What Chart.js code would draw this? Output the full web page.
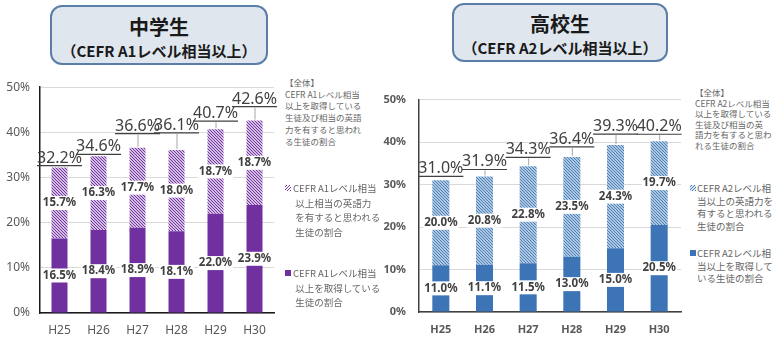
<!DOCTYPE html>
<html lang="ja">
<head>
<meta charset="utf-8">
<script src="https://cdn.jsdelivr.net/npm/chart.js@4/dist/chart.umd.min.js"></script>
<style>
  body { margin: 0; background: #fff; width: 780px; height: 350px; position: relative; overflow: hidden;
         font-family: "Noto Sans CJK JP", "Noto Sans", sans-serif; }
  .box { position: absolute; box-sizing: border-box; border: 2px solid #5a7ea8; border-radius: 12px;
         background: #dfe6ee; text-align: center; color: #1a1a1a; font-weight: bold; }
  .box .t1 { font-size: 20px; line-height: 24px; margin-top: 8px; }
  .box .t2 { font-size: 15px; line-height: 20px; margin-top: 2px; }
  .wrap { position: absolute; }
  .leg { position: absolute; color: #666; white-space: nowrap; }
  .mk { position: absolute; width: 6px; height: 6px; }
</style>
</head>
<body>
<div class="box" style="left:50px;top:5px;width:218px;height:60px;">
  <div class="t1">中学生</div>
  <div class="t2">（CEFR A1レベル相当以上）</div>
</div>
<div class="box" style="left:452px;top:3px;width:216px;height:59px;">
  <div class="t1" style="margin-top:7px;">高校生</div>
  <div class="t2">（CEFR A2レベル相当以上）</div>
</div>

<div class="wrap" style="left:0;top:70px;"><canvas id="junior" width="280" height="280"></canvas></div>
<div class="wrap" style="left:370px;top:80px;"><canvas id="senior" width="320" height="270"></canvas></div>

<!-- legends -->
<div class="leg" style="left:285px;top:77px;font-size:8.5px;line-height:11.7px;">【全体】<br>CEFR A1レベル相当<br>以上を取得している<br>生徒及び相当の英語<br>力を有すると思われ<br>る生徒の割合</div>
<div class="mk" style="left:285px;top:185px;background:repeating-linear-gradient(-45deg,#7030a0 0 1px,#fff 1px 2.2px);"></div>
<div class="leg" style="left:293px;top:181px;font-size:9.5px;line-height:14.5px;">CEFR A1レベル相当<br>&nbsp;以上相当の英語力<br>&nbsp;を有すると思われる<br>&nbsp;生徒の割合</div>
<div class="mk" style="left:285px;top:270px;background:#7030a0;"></div>
<div class="leg" style="left:293px;top:266px;font-size:9.5px;line-height:14.5px;">CEFR A1レベル相当<br>&nbsp;以上を取得している<br>&nbsp;生徒の割合</div>

<div class="leg" style="left:695px;top:87px;font-size:8.5px;line-height:10.6px;">【全体】<br>CEFR A2レベル相当<br>以上を取得している<br>生徒及び相当の英<br>語力を有すると思わ<br>れる生徒の割合</div>
<div class="mk" style="left:690px;top:185px;background:repeating-linear-gradient(-45deg,#4a7fb8 0 1px,#dbe8f4 1px 2.2px);"></div>
<div class="leg" style="left:697px;top:182px;font-size:9.5px;line-height:12.7px;">CEFR A2レベル相<br>当以上の英語力を<br>有すると思われる<br>生徒の割合</div>
<div class="mk" style="left:690px;top:250px;background:#3d74b6;"></div>
<div class="leg" style="left:697px;top:247px;font-size:9.5px;line-height:12.7px;">CEFR A2レベル相<br>当以上を取得して<br>いる生徒の割合</div>

<script>
const years = ['H25', 'H26', 'H27', 'H28', 'H29', 'H30'];
const yTicks = [0, 10, 20, 30, 40, 50];

// 中学生 (A1)
const juniorAchieved = [16.5, 18.4, 18.9, 18.1, 22.0, 23.9];
const juniorEquivalent = [15.7, 16.3, 17.7, 18.0, 18.7, 18.7];
const juniorTotal = [32.2, 34.6, 36.6, 36.1, 40.7, 42.6];

// 高校生 (A2)
const seniorAchieved = [11.0, 11.1, 11.5, 13.0, 15.0, 20.5];
const seniorEquivalent = [20.0, 20.8, 22.8, 23.5, 24.3, 19.7];
const seniorTotal = [31.0, 31.9, 34.3, 36.4, 39.3, 40.2];

// how far each total label sits above its bar (px)
const juniorLift = [2, 2, 14, 17, 8, 14];
const seniorLift = [4, 7, 9, 10, 11, 7];

function hatch(fg, bg) {
	const c = document.createElement('canvas');
	c.width = 3;
	c.height = 3;
	const g = c.getContext('2d');
	g.fillStyle = bg;
	g.fillRect(0, 0, 3, 3);
	g.strokeStyle = fg;
	g.lineWidth = 1.2;
	g.beginPath();
	g.moveTo(-1, -1); g.lineTo(4, 4);
	g.moveTo(-1, 2); g.lineTo(1, 4);
	g.moveTo(2, -1); g.lineTo(4, 1);
	g.stroke();
	return g.createPattern(c, 'repeat');
}

const segLabels = {
	id: 'segLabels',
	afterDatasetsDraw(chart, args, opts) {
		const ctx = chart.ctx;
		ctx.save();
		ctx.font = 'bold 11.5px "Noto Sans"';
		ctx.textAlign = 'center';
		ctx.textBaseline = 'middle';
		chart.data.datasets.forEach((ds, di) => {
			chart.getDatasetMeta(di).data.forEach((bar, i) => {
				const y = (bar.y + bar.base) / 2;
				const txt = ds.data[i].toFixed(1) + '%';
				const w = ctx.measureText(txt).width;
				ctx.fillStyle = '#fff';
				ctx.fillRect(bar.x - w / 2 - 1, y - 7, w + 2, 14);
				ctx.fillStyle = '#404040';
				ctx.fillText(txt, bar.x, y);
			});
		});
		// totals, underlined
		const last = chart.getDatasetMeta(chart.data.datasets.length - 1).data;
		ctx.font = '16px "Noto Sans"';
		ctx.textBaseline = 'alphabetic';
		opts.totals.forEach((t, i) => {
			const bar = last[i];
			const uy = bar.y - opts.lift[i];
			const txt = t.toFixed(1) + '%';
			const w = ctx.measureText(txt).width;
			if (opts.lift[i] > 6) {
				ctx.strokeStyle = '#a6a6a6';
				ctx.lineWidth = 1;
				ctx.beginPath();
				ctx.moveTo(bar.x + 0.5, uy + 1);
				ctx.lineTo(bar.x + 0.5, bar.y - 1);
				ctx.stroke();
			}
			ctx.fillStyle = '#404040';
			ctx.fillText(txt, bar.x, uy - 3);
			ctx.strokeStyle = '#404040';
			ctx.lineWidth = 1.2;
			ctx.beginPath();
			ctx.moveTo(bar.x - w / 2, uy);
			ctx.lineTo(bar.x + w / 2, uy);
			ctx.stroke();
		});
		ctx.restore();
	}
};

function makeChart(id, s) {
	const ctx = document.getElementById(id).getContext('2d');
	return new Chart(ctx, {
		type: 'bar',
		data: {
			labels: years,
			datasets: [
				{ label: 'achieved', data: s.achieved, backgroundColor: s.solid, borderWidth: 0,
				  barPercentage: 1, categoryPercentage: s.barPct },
				{ label: 'equivalent', data: s.equivalent, backgroundColor: hatch(s.hatchFg, s.hatchBg), borderWidth: 0,
				  barPercentage: 1, categoryPercentage: s.barPct }
			]
		},
		options: {
			responsive: false,
			animation: false,
			layout: { padding: s.padding },
			plugins: {
				legend: { display: false },
				tooltip: { enabled: false },
				segLabels: { totals: s.totals, lift: s.lift }
			},
			scales: {
				x: {
					stacked: true,
					grid: { display: false, drawTicks: false },
					border: { color: s.axisColor, width: 1.5 },
					ticks: { color: '#595959', padding: s.xPad, font: { family: 'Noto Sans', size: s.tickSize, weight: s.tickWeight } },
					afterFit: (a) => { a.height = 30; }
				},
				y: {
					stacked: true,
					min: 0,
					max: 50,
					afterBuildTicks: (a) => { a.ticks = yTicks.map((v) => ({ value: v })); },
					grid: { color: '#d9d9d9', drawTicks: false },
					border: { color: s.axisColor, width: 1.5 },
					ticks: { color: '#595959', padding: s.yPad, callback: (v) => v + '%',
						font: { family: 'Noto Sans', size: s.tickSize, weight: s.tickWeight } },
					afterFit: (a) => { a.width = s.yWidth; }
				}
			}
		},
		plugins: [segLabels]
	});
}

makeChart('junior', {
	achieved: juniorAchieved, equivalent: juniorEquivalent, totals: juniorTotal, lift: juniorLift,
	solid: '#7030a0', hatchFg: '#7030a0', hatchBg: '#ffffff', axisColor: '#1a1a1a',
	barPct: 0.41, padding: { top: 9, right: 6, bottom: 7, left: 0 },
	yWidth: 40, yPad: 10, xPad: 10, tickSize: 12, tickWeight: 'normal'
});

makeChart('senior', {
	achieved: seniorAchieved, equivalent: seniorEquivalent, totals: seniorTotal, lift: seniorLift,
	solid: '#3d74b6', hatchFg: '#4a7fb8', hatchBg: '#dbe8f4', axisColor: '#404040',
	barPct: 0.39, padding: { top: 9, right: 9, bottom: 8, left: 0 },
	yWidth: 49, yPad: 13, xPad: 11, tickSize: 11, tickWeight: 'bold'
});
</script>
</body>
</html>
